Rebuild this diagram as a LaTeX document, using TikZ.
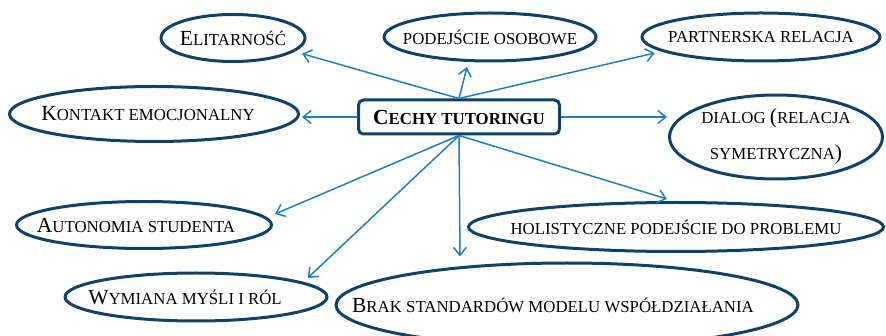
\documentclass[tikz,border=0pt]{standalone}
\usepackage{fontspec}
\setmainfont{Liberation Serif}
\usetikzlibrary{arrows.meta,shapes.geometric,calc}
\definecolor{navy}{RGB}{16,66,104}
\definecolor{arrowblue}{RGB}{28,126,196}
\newcommand{\Bg}[1]{{\fontsize{21.5}{24}\selectfont #1}}
\newcommand{\Sm}[1]{{\fontsize{16.8}{20}\selectfont #1}}
\newcommand{\zw}[1]{\makebox[0pt]{#1}}
\begin{document}
\begin{tikzpicture}[x=1pt,y=-1pt,
  oval/.style={ellipse, draw=navy, line width=3pt, inner sep=0pt, text=black},
  titlebox/.style={draw=navy, line width=3pt, rounded corners=5pt, inner sep=0pt, font=\bfseries},
  conn/.style={draw=arrowblue, line width=1.5pt, -{Straight Barb[length=8pt,width=13pt,line width=1.5pt]}}]
\useasboundingbox (0,0) rectangle (886,336);

\node[titlebox, minimum width=201pt, minimum height=34pt] (main) at (459,117) {\Bg{C}\Sm{ECHY TUTORINGU}};

\node[oval, minimum width=144pt, minimum height=47pt] (elit) at (233,38) {\zw{\Bg{E}\Sm{LITARNOŚĆ}}};
\node[oval, minimum width=212pt, minimum height=48pt] (pod) at (490,37) {\zw{\Sm{PODEJŚCIE OSOBOWE}}};
\node[oval, minimum width=238pt, minimum height=48pt] (part) at (761,37) {\zw{\Sm{PARTNERSKA RELACJA}}};
\node[oval, minimum width=289pt, minimum height=55pt] (kont) at (154,114) {\zw{\Bg{K}\Sm{ONTAKT EMOCJONALNY}\hspace*{12pt}}};
\node[oval, minimum width=213pt, minimum height=84pt] (dia) at (776,137) {\zw{\fontsize{16.8}{20}\selectfont\begin{tabular}{@{}c@{}}DIALOG \Bg{(}RELACJA\\[15pt]SYMETRYCZNA\Bg{)}\end{tabular}}};
\node[oval, minimum width=255pt, minimum height=47pt] (auto) at (144,225) {\zw{\Bg{A}\Sm{UTONOMIA STUDENTA}\hspace*{16pt}}};
\node[oval, minimum width=262pt, minimum height=48pt] (wym) at (196,297) {\zw{\Bg{W}\Sm{YMIANA MYŚLI I RÓL}\hspace*{22pt}}};
\node[oval, minimum width=415pt, minimum height=49pt] (holi) at (676,227) {\zw{\Sm{HOLISTYCZNE PODEJŚCIE DO PROBLEMU}}};
\node[oval, minimum width=462pt, minimum height=84pt] (brak) at (567,305) {\zw{\raisebox{-2pt}{\Bg{B}\Sm{RAK STANDARDÓW MODELU WSPÓŁDZIAŁANIA}}\hspace*{28pt}}};

\draw[conn] (main.north) -- ($(elit.south east)+(17,-2)$);
\draw[conn] (main.north) -- ($(pod.south)+(-23,4.5)$);
\draw[conn] (main.north) -- ($(part.south west)+(-21,-2)$);
\draw[conn] (main.west) -- ($(main.west -| kont.east)+(2,0)$);
\draw[conn] (main.east) -- ($(main.east -| dia.west)+(-1,0)$);
\draw[conn] (main.south) -- ($(auto.east)+(2,-11)$);
\draw[conn] (main.south) -- ($(wym.north east)+(18,-1)$);
\draw[conn] (main.south) -- ($(main.south |- brak.north)+(1,-5)$);
\draw[conn] (main.south) -- ($(holi.north)+(-9,-2)$);
\end{tikzpicture}
\end{document}
